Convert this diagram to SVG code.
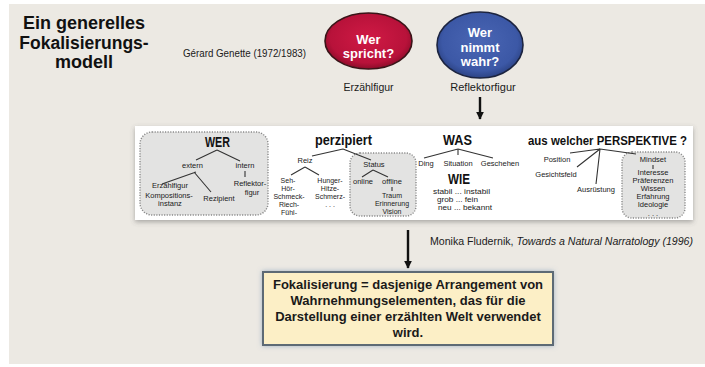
<svg xmlns="http://www.w3.org/2000/svg" width="705" height="367" viewBox="0 0 705 367">
<defs>
<style>
.t{font-family:"Liberation Sans",Arial,sans-serif;fill:#1a1a1a}
.s{font-size:7.5px;text-anchor:middle}
.x{font-size:7px}
.h{font-size:14px;font-weight:bold;fill:#111}
.ln{stroke:#333;stroke-width:1.1;fill:none}
.dot{fill:#e3e3e2;stroke:#8a8a8a;stroke-width:1.4;stroke-dasharray:1.2 1.4}
.el{font-size:13px;font-weight:bold;fill:#fff;text-anchor:middle}
</style>
<marker id="ah" viewBox="0 0 10 10" refX="9" refY="5" markerWidth="3.2" markerHeight="3.2" orient="auto">
<path d="M0,0 L10,5 L0,10 z" fill="#111"/>
</marker>
<filter id="sh" x="-10%" y="-20%" width="120%" height="150%">
<feDropShadow dx="0" dy="2" stdDeviation="2.5" flood-color="#555" flood-opacity="0.45"/>
</filter>
<filter id="glow" x="-10%" y="-20%" width="120%" height="140%">
<feDropShadow dx="0" dy="0" stdDeviation="2.5" flood-color="#6f8fb0" flood-opacity="0.6"/>
</filter>
<radialGradient id="rg" cx="50%" cy="45%" r="55%">
<stop offset="0" stop-color="#d01a45"/><stop offset="0.8" stop-color="#b8123a"/><stop offset="1" stop-color="#8d0c2a"/>
</radialGradient>
<radialGradient id="bg" cx="50%" cy="45%" r="55%">
<stop offset="0" stop-color="#4a66b4"/><stop offset="0.8" stop-color="#3c58a6"/><stop offset="1" stop-color="#2c4384"/>
</radialGradient>
</defs>

<rect x="9" y="4" width="696" height="360" fill="#ece9e3"/>

<g id="title" class="t">
<text x="84" y="29" text-anchor="middle" font-size="18" font-weight="bold" fill="#111">Ein generelles</text>
<text x="84" y="49" text-anchor="middle" font-size="17.5" font-weight="bold" fill="#111">Fokalisierungs-</text>
<text x="84" y="68" text-anchor="middle" font-size="18" font-weight="bold" fill="#111">modell</text>
</g>

<g id="genette" class="t"><text x="183" y="57" font-size="10.5" textLength="123" lengthAdjust="spacingAndGlyphs">Gérard Genette (1972/1983)</text></g>

<g id="wer-spricht">
<ellipse cx="368.5" cy="41" rx="43.5" ry="28" fill="url(#rg)" stroke="#3a1418" stroke-width="1.6"/>
<text class="t el" x="368.5" y="44">Wer</text>
<text class="t el" x="368.5" y="58">spricht?</text>
<text class="t" x="368.5" y="91" font-size="10.5" text-anchor="middle">Erzählfigur</text>
</g>

<g id="wer-nimmt-wahr">
<ellipse cx="480" cy="45" rx="43" ry="33" fill="url(#bg)" stroke="#1c2440" stroke-width="1.6"/>
<text class="t el" x="480" y="37">Wer</text>
<text class="t el" x="480" y="52">nimmt</text>
<text class="t el" x="480" y="66">wahr?</text>
<text class="t" x="483" y="91" font-size="11" text-anchor="middle">Reflektorfigur</text>
</g>

<g id="connectors">
<line x1="480" y1="97" x2="480" y2="119" stroke="#111" stroke-width="2.4" marker-end="url(#ah)"/>
<line x1="408" y1="230" x2="408" y2="268" stroke="#111" stroke-width="2.4" marker-end="url(#ah)"/>
</g>

<g id="model-box">
<rect x="135" y="126" width="558" height="94" fill="#fff" filter="url(#sh)"/>
<rect x="140" y="132" width="128" height="83" rx="12" class="dot"/>
<rect x="350" y="153" width="66" height="63" rx="10" class="dot"/>
<rect x="622" y="152" width="63" height="66" rx="10" class="dot"/>

<g id="wer" class="t">
<text class="h" x="205" y="147" textLength="25" lengthAdjust="spacingAndGlyphs">WER</text>
<path class="ln" d="M217,150 L196,160 M217,150 L240,161 M245,171 L245,177 M196,172 L162,184 M194,172 L211,192"/>
<text class="s" x="192.5" y="168">extern</text>
<text class="s" x="245" y="168">intern</text>
<text class="s" x="250" y="186">Reflektor-</text>
<text class="s" x="252" y="195">figur</text>
<text class="s" x="170" y="188">Erzählfigur</text>
<text class="s" x="169" y="198">Kompositions-</text>
<text class="s" x="170" y="206">instanz</text>
<text class="s" x="219" y="201">Rezipient</text>
</g>

<g id="perzipiert" class="t">
<text class="h" x="315" y="145" textLength="57" lengthAdjust="spacingAndGlyphs">perzipiert</text>
<path class="ln" d="M343,149 L312,156 M343,149 L371,160 M305,167 L291,175 M305,167 L319,175 M373,170 L362,177 M373,170 L388,177 M392,187 L392,191"/>
<text class="s" x="305" y="163">Reiz</text>
<text class="s x" x="288" y="183">Seh-</text>
<text class="s x" x="288" y="191">Hör-</text>
<text class="s x" x="289" y="199">Schmeck-</text>
<text class="s x" x="289" y="207">Riech-</text>
<text class="s x" x="289" y="215">Fühl-</text>
<text class="s x" x="330" y="183">Hunger-</text>
<text class="s x" x="330" y="191">Hitze-</text>
<text class="s x" x="330" y="199">Schmerz-</text>
<text class="s x" x="330" y="207">. . .</text>
<text class="s" x="374" y="167">Status</text>
<text class="s" x="363" y="184">online</text>
<text class="s" x="392" y="184">offline</text>
<text class="s x" x="392" y="198">Traum</text>
<text class="s x" x="392" y="206">Erinnerung</text>
<text class="s x" x="392" y="214">Vision</text>
</g>

<g id="was" class="t">
<text class="h" x="443" y="145" textLength="29" lengthAdjust="spacingAndGlyphs">WAS</text>
<path class="ln" d="M458,149 L424,158 M458,149 L458,155 M458,149 L493,158"/>
<text class="s" x="426" y="166">Ding</text>
<text class="s" x="458" y="166">Situation</text>
<text class="s" x="500" y="166">Geschehen</text>
</g>

<g id="wie" class="t">
<text class="h" x="448" y="184" textLength="22" lengthAdjust="spacingAndGlyphs">WIE</text>
<text x="433" y="194" font-size="7.5" textLength="57" lengthAdjust="spacingAndGlyphs">stabil ... instabil</text>
<text x="437" y="202" font-size="7.5" textLength="41" lengthAdjust="spacingAndGlyphs">grob ... fein</text>
<text x="438" y="210" font-size="7.5" textLength="54" lengthAdjust="spacingAndGlyphs">neu ... bekannt</text>
</g>

<g id="perspektive" class="t">
<text class="h" x="528" y="145" style="font-size:12px" textLength="159" lengthAdjust="spacingAndGlyphs">aus welcher PERSPEKTIVE ?</text>
<path class="ln" d="M600,149 L570,153 M600,149 L577,167 M600,149 L596,184 M600,149 L636,154 M653,165 L653,169"/>
<text class="s" x="557" y="162">Position</text>
<text class="s" x="556" y="177">Gesichtsfeld</text>
<text class="s" x="596" y="192">Ausrüstung</text>
<text class="s" x="653" y="162">Mindset</text>
<text class="s" x="653" y="175">Interesse</text>
<text class="s" x="653" y="183">Präferenzen</text>
<text class="s" x="653" y="191">Wissen</text>
<text class="s" x="653" y="199">Erfahrung</text>
<text class="s" x="653" y="207">Ideologie</text>
<text class="s" x="653" y="216">. . .</text>
</g>
</g>

<g id="fludernik" class="t">
<text x="430" y="245" font-size="10.5" textLength="263" lengthAdjust="spacingAndGlyphs">Monika Fludernik, <tspan font-style="italic">Towards a Natural Narratology (1996)</tspan></text>
</g>

<g id="definition">
<rect x="263" y="272" width="290" height="73" fill="#fcefc6" stroke="#5d6a74" stroke-width="2" filter="url(#glow)"/>
<g class="t" font-size="13" font-weight="bold" text-anchor="middle" fill="#1a1a1a">
<text x="408" y="289">Fokalisierung = dasjenige Arrangement von</text>
<text x="408" y="305">Wahrnehmungselementen, das für die</text>
<text x="408" y="321">Darstellung einer erzählten Welt verwendet</text>
<text x="408" y="337">wird.</text>
</g>
</g>
</svg>
